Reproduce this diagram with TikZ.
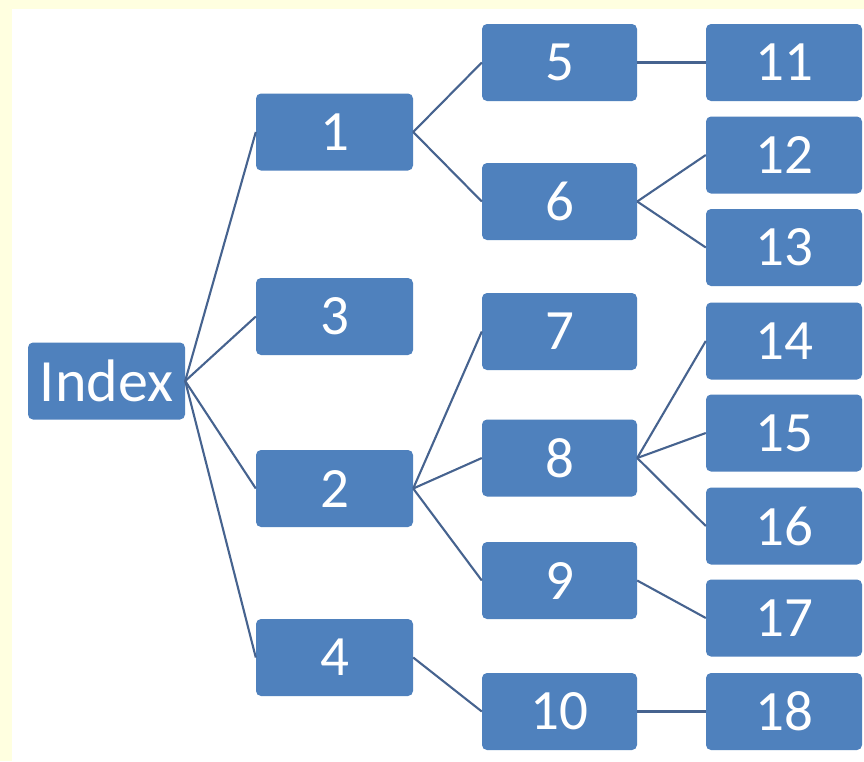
\documentclass[tikz,border=0pt]{standalone}
\usepackage{fontspec}
\setmainfont{Carlito}
\definecolor{pagebg}{HTML}{FFFFE0}
\definecolor{boxblue}{HTML}{4F81BD}
\definecolor{linkblue}{HTML}{46638F}
\begin{document}
\begin{tikzpicture}[x=1pt,y=-1pt,
  box/.style={fill=boxblue,draw=none,rounded corners=5pt,minimum width=156pt,
    minimum height=77pt,inner sep=0pt,text=white,font=\fontsize{57}{57}\selectfont},
  link/.style={draw=linkblue,line width=2.1pt}]
  % page background with white panel
  \fill[pagebg] (0,0) rectangle (864,761);
  \fill[white] (12,9) rectangle (864,761);
  \useasboundingbox (0,0) rectangle (864,761);
  % root
  \node[box,minimum width=157pt,font=\fontsize{60}{60}\selectfont] (idx) at (106.5,381) {Index};
  % first level
  \node[box,minimum width=157pt] (n1) at (334.5,132) {1};
  \node[box,minimum width=157pt] (n3) at (334.5,316.5) {3};
  \node[box,minimum width=157pt] (n2) at (334.5,488.5) {2};
  \node[box,minimum width=157pt] (n4) at (334.5,657.5) {4};
  % second level
  \node[box,minimum width=155pt] (n5) at (559.5,62.5) {5};
  \node[box,minimum width=155pt] (n6) at (559.5,201.5) {6};
  \node[box,minimum width=155pt] (n7) at (559.5,331.5) {7};
  \node[box,minimum width=155pt] (n8) at (559.5,458) {8};
  \node[box,minimum width=155pt] (n9) at (559.5,580.5) {9};
  \node[box,minimum width=155pt] (n10) at (559.5,711.5) {10};
  % third level
  \node[box] (n11) at (784,62.5) {11};
  \node[box] (n12) at (784,155) {12};
  \node[box] (n13) at (784,247.5) {13};
  \node[box] (n14) at (784,341) {14};
  \node[box] (n15) at (784,433) {15};
  \node[box] (n16) at (784,526) {16};
  \node[box] (n17) at (784,618) {17};
  \node[box] (n18) at (784,711.5) {18};
  % connectors
  \foreach \c in {n1,n3,n2,n4} \draw[link] (idx.east) -- (\c.west);
  \foreach \c in {n5,n6} \draw[link] (n1.east) -- (\c.west);
  \foreach \c in {n7,n8,n9} \draw[link] (n2.east) -- (\c.west);
  \draw[link] (n4.east) -- (n10.west);
  \draw[link] (n5.east) -- (n11.west);
  \foreach \c in {n12,n13} \draw[link] (n6.east) -- (\c.west);
  \foreach \c in {n14,n15,n16} \draw[link] (n8.east) -- (\c.west);
  \draw[link] (n9.east) -- (n17.west);
  \draw[link] (n10.east) -- (n18.west);
\end{tikzpicture}
\end{document}
